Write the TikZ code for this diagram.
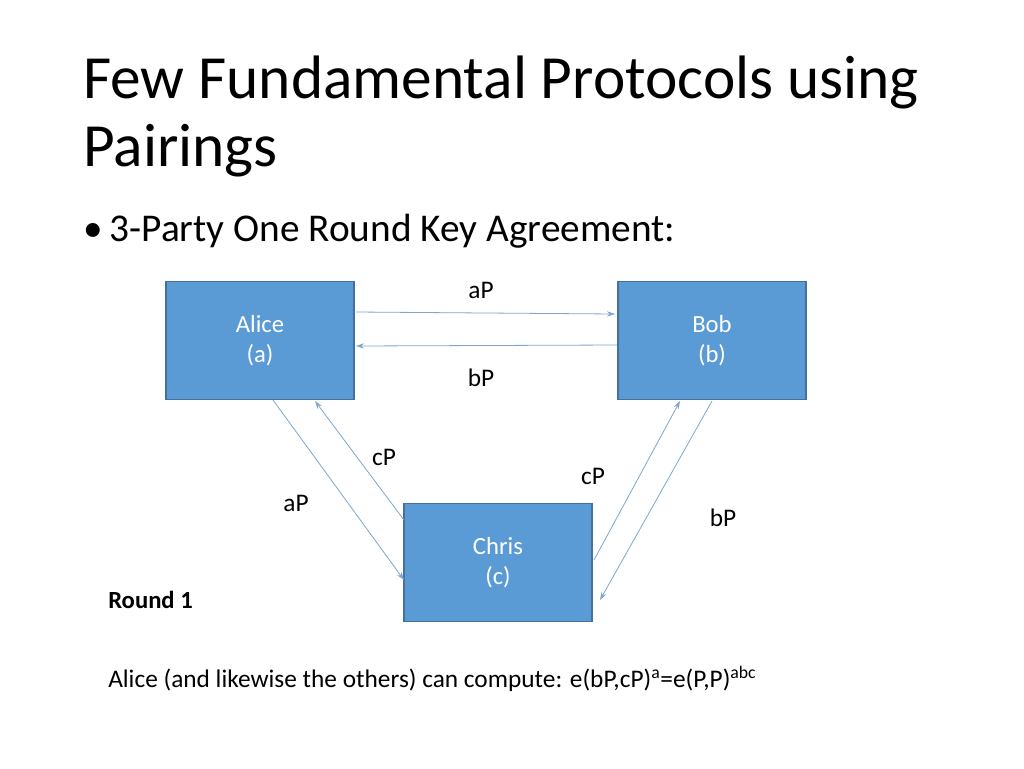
\documentclass[tikz,border=0pt]{standalone}
\usepackage{fontspec}
\setmainfont{Carlito}
\usetikzlibrary{arrows.meta}
\definecolor{boxfill}{HTML}{5B9BD5}
\definecolor{boxline}{HTML}{41719C}
\definecolor{arrowc}{HTML}{7EA6CF}
\tikzset{
  party/.style={draw=boxline,fill=boxfill,text=white,minimum width=141pt,minimum height=88pt,
    align=center,font=\fontsize{18.5}{23}\selectfont,line width=0.8pt},
  msg/.style={draw=arrowc,line width=0.6pt,-{Stealth[length=6pt,width=4pt]}},
  lbl/.style={font=\fontsize{19}{22}\selectfont}
}
\begin{document}
\begin{tikzpicture}[x=0.75pt,y=-0.75pt]
\useasboundingbox (0,0) rectangle (1024,768);
% title
\node[anchor=base west,inner sep=0,font=\fontsize{46}{50}\selectfont] (title1) at (83,98) {Few Fundamental Protocols using};
\node[anchor=base west,inner sep=0,font=\fontsize{46}{50}\selectfont] (title2) at (83,166) {Pairings};
\node[anchor=base west,inner sep=0,font=\fontsize{29.5}{34}\selectfont] (bullet) at (83,241) {•\hspace{5pt}3-Party One Round Key Agreement:};
% parties
\node[party] (alice) at (260,340.5) {Alice\\(a)};
\node[party] (bob) at (712,340.5) {Bob\\(b)};
\node[party] (chris) at (498,562.5) {Chris\\(c)};
% message ends
\coordinate (ab1) at (356,312); \coordinate (ab2) at (615,314);
\coordinate (ba1) at (617,345); \coordinate (ba2) at (356,346);
\coordinate (ac1) at (273,400); \coordinate (ac2) at (404,580);
\coordinate (ca1) at (404,520); \coordinate (ca2) at (315,401);
\coordinate (cb1) at (594,560); \coordinate (cb2) at (680,401);
\coordinate (bc1) at (712,401); \coordinate (bc2) at (600,600);
\draw[msg] (ab1) -- (ab2);
\draw[msg] (ba1) -- (ba2);
\draw[msg] (ac1) -- (ac2);
\draw[msg] (ca1) -- (ca2);
\draw[msg] (cb1) -- (cb2);
\draw[msg] (bc1) -- (bc2);
% labels
\node[lbl] (l1) at (481,290) {aP};
\node[lbl] (l2) at (481,378) {bP};
\node[lbl] (l3) at (384,457) {cP};
\node[lbl] (l4) at (296,503) {aP};
\node[lbl] (l5) at (593,476) {cP};
\node[lbl] (l6) at (723,518) {bP};
% notes
\node[anchor=base west,inner sep=0,font=\fontsize{18.5}{22}\selectfont\bfseries] (round) at (108,608) {Round 1};
\node[anchor=base west,inner sep=0,font=\fontsize{19}{22}\selectfont] (result) at (108,687)
  {Alice (and likewise the others) can compute: e(bP,cP)\textsuperscript{a}=e(P,P)\textsuperscript{abc}};
\end{tikzpicture}
\end{document}
